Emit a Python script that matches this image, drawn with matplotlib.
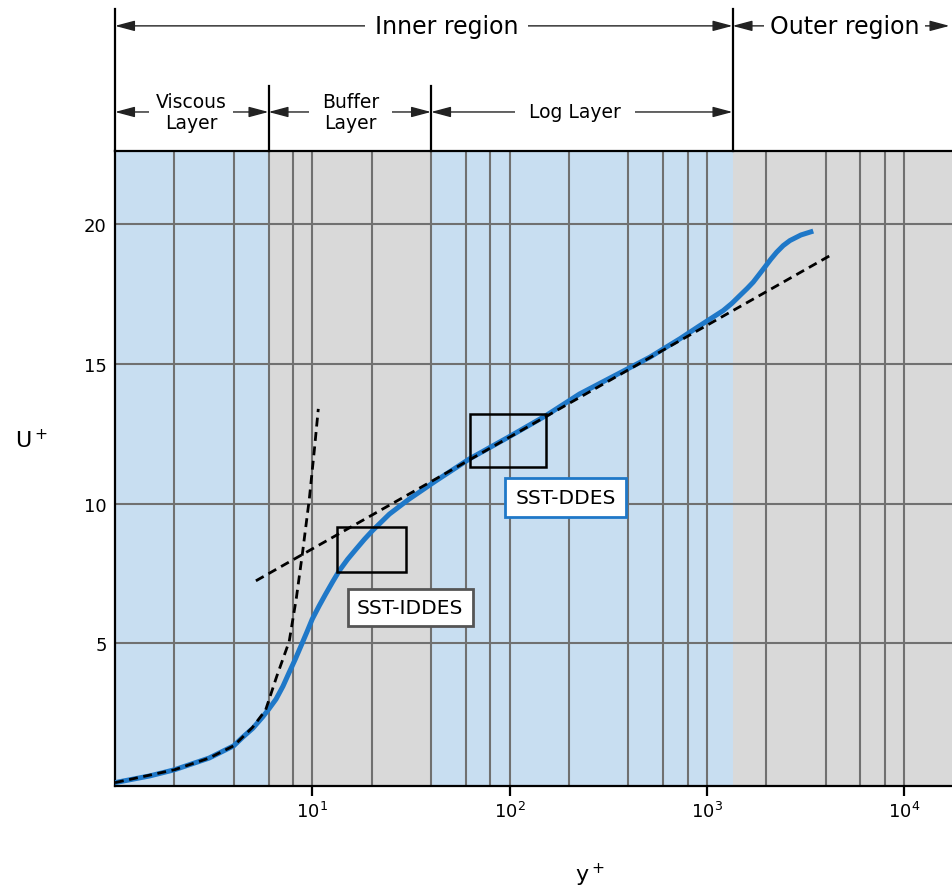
import matplotlib.pyplot as plt
from matplotlib.patches import Rectangle
from matplotlib.ticker import FixedLocator, NullFormatter

# --- values ---
# blue U+ curve
blue_yp = [1, 1.5, 2, 3, 4, 4.43, 5.0, 5.6, 6.0, 6.55, 7.1, 7.64, 8.2, 8.77, 9.4,
           10.0, 10.85, 11.7, 12.7, 13.7, 15.1, 16.7, 18.4, 20.2, 24.6, 31, 42.5,
           62.7, 100, 153, 226, 514, 730, 921, 1210, 1340, 1471, 1600, 1719, 1840,
           1969, 2110, 2258, 2440, 2638, 3000, 3465]
blue_u = [0, 0.24, 0.46, 0.88, 1.32, 1.62, 1.95, 2.35, 2.62, 2.99, 3.45, 3.95, 4.42,
          4.9, 5.4, 5.86, 6.34, 6.76, 7.2, 7.59, 8.0, 8.37, 8.72, 9.03, 9.62, 10.16,
          10.82, 11.6, 12.4, 13.15, 13.92, 15.24, 15.9, 16.37, 16.91, 17.17, 17.45,
          17.7, 17.93, 18.2, 18.47, 18.75, 19.0, 19.24, 19.42, 19.62, 19.76]

# viscous sublayer dashed line
visc_yp = [1, 2, 3, 4, 4.98, 5.8, 6.6, 7.64, 8.3, 8.93, 9.66, 10.24, 10.73]
visc_u = [0, 0.46, 0.88, 1.32, 1.98, 2.6, 3.8, 5.06, 6.6, 8.25, 10.16, 11.9, 13.39]

# log-law dashed line
log_yp = [5.18, 4210]
log_u = [7.23, 18.88]

# region boundaries (y+)
edges = [1, 6, 40, 1350, 17500]
shade = ['#c8def1', '#d9d9d9', '#c8def1', '#d9d9d9']

grid_x = [2, 4, 6, 8, 20, 40, 60, 80, 200, 400, 600, 800, 2000, 4000, 6000, 8000]
major_x = [10, 100, 1000, 10000]
y_ticks = [5, 10, 15, 20]

# boxes (x0, x1, y0, y1) and their labels
box_iddes = (13.4, 29.9, 7.56, 9.15)
box_ddes = (62.7, 153.5, 11.3, 13.2)
lab_iddes = (31.4, 6.28)
lab_ddes = (192, 10.23)

fig = plt.figure(figsize=(9.52, 8.95), dpi=100)
ax = fig.add_axes([0.1208, 0.1207, 0.8792, 0.7095])
ax.set_xscale('log')
ax.set_xlim(1, 17500)
ax.set_ylim(-0.12, 22.63)

# background bands
for i in range(len(shade)):
    ax.axvspan(edges[i], edges[i + 1], color=shade[i], lw=0, zorder=0)

ax.set_axisbelow(True)
ax.xaxis.set_major_locator(FixedLocator(major_x))
ax.xaxis.set_minor_locator(FixedLocator(grid_x))
ax.xaxis.set_minor_formatter(NullFormatter())
ax.set_yticks(y_ticks)
ax.grid(which='both', color='#707070', lw=1.5)
ax.tick_params(axis='x', which='major', length=7, width=1.6, labelsize=13)
ax.tick_params(axis='x', which='minor', length=0)
ax.tick_params(axis='y', length=0, labelsize=13, pad=6)

for s in ['left', 'bottom', 'top']:
    ax.spines[s].set_linewidth(1.6)
ax.spines['right'].set_visible(False)

# curves
ax.plot(blue_yp, blue_u, color='#1f78c8', lw=3.6, zorder=3,
        solid_capstyle='butt', solid_joinstyle='round')
dash = (0, (3.2, 2.0))
ax.plot(visc_yp, visc_u, color='k', lw=2.0, ls=dash, zorder=4)
ax.plot(log_yp, log_u, color='k', lw=2.0, ls=dash, zorder=4)

for b in [box_iddes, box_ddes]:
    ax.add_patch(Rectangle((b[0], b[2]), b[1] - b[0], b[3] - b[2],
                           fill=False, ec='k', lw=1.8, zorder=5))

ax.text(lab_iddes[0], lab_iddes[1], 'SST-IDDES', ha='center', va='center', fontsize=14.5,
        zorder=6, bbox=dict(boxstyle='square,pad=0.45', fc='white', ec='#555555', lw=2))
ax.text(lab_ddes[0], lab_ddes[1], 'SST-DDES', ha='center', va='center', fontsize=14.5,
        zorder=6, bbox=dict(boxstyle='square,pad=0.5', fc='white', ec='#1f78c8', lw=2))

# region annotations above the axes
tr = ax.get_xaxis_transform()
y_top, y_low = 1.197, 1.0614
for x in [1, 1350]:
    ax.plot([x, x], [1, 1.2236], transform=tr, color='k', lw=1.6, clip_on=False)
for x in [6, 40]:
    ax.plot([x, x], [1, 1.1024], transform=tr, color='k', lw=1.6, clip_on=False)

arrows = [(1, 1350, y_top), (1350, 17000, y_top), (1, 6, y_low), (6, 40, y_low), (40, 1350, y_low)]
for x0, x1, y in arrows:
    ax.annotate('', xy=(x1, y), xytext=(x0, y), xycoords=tr, textcoords=tr,
                arrowprops=dict(arrowstyle='<|-|>,head_length=0.6,head_width=0.16',
                                color='#222222', lw=1.0, shrinkA=0, shrinkB=0,
                                mutation_scale=20))

labels = [('Inner region', 47.9, y_top, 17, 7), ('Outer region', 5012, y_top, 17, 4),
          ('Viscous\nLayer', 2.43, y_low, 13.5, 5), ('Buffer\nLayer', 15.6, y_low, 13.5, 9),
          ('Log Layer', 214, y_low, 13.5, 10)]
for txt, x, y, fs, pad in labels:
    ax.text(x, y, txt, transform=tr, ha='center', va='center', fontsize=fs,
            linespacing=1.15, zorder=6, bbox=dict(fc='white', ec='none', pad=pad))

ax.set_ylabel('U$^+$', fontsize=16, rotation=0, ha='center', va='center')
ax.yaxis.set_label_coords(-0.10, 0.546)
ax.set_xlabel('y$^+$', fontsize=16, va='center')
ax.xaxis.set_label_coords(0.567, -0.139)

fig.savefig('out.png', dpi=100)
